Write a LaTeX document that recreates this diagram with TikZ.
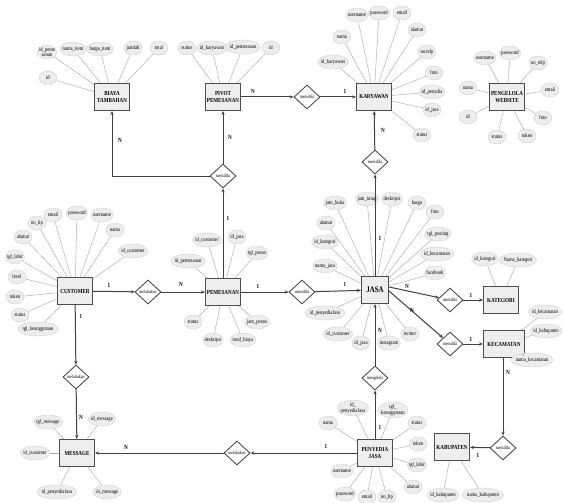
\documentclass[tikz,border=0pt]{standalone}
\usepackage{fontspec}
\setmainfont{Liberation Serif}[FakeStretch=0.82]
\usetikzlibrary{shapes.geometric,arrows.meta}
\begin{document}
\begin{tikzpicture}[x=1pt,y=-1pt,
 ent/.style={draw=black!70, fill=gray!13, line width=1pt, minimum width=35pt, minimum height=27pt, align=center, inner sep=1pt, font=\bfseries\fontsize{6.2}{7.2}\selectfont},
 attr/.style={ellipse, fill=gray!14, draw=gray!35, line width=0.4pt, minimum width=18pt, minimum height=14pt, inner xsep=-1.2pt, inner ysep=0pt, align=center, font=\fontsize{5.7}{5.8}\selectfont},
 rel/.style={diamond, draw=black!80, fill=white, line width=0.75pt, minimum width=26pt, minimum height=24pt, inner sep=0pt, font=\fontsize{4.8}{5}\selectfont},
 conn/.style={draw=black!75, line width=1pt, -{Stealth[length=4pt,width=3.2pt]}},
 al/.style={draw=gray!65, line width=0.45pt},
 card/.style={font=\bfseries\fontsize{6.3}{6.3}\selectfont, inner sep=0pt}
]
\useasboundingbox[fill=white] (0,0) rectangle (563,503);

% ---------- entities ----------
\node[ent] (b)  at (112,97)  {BIAYA\\TAMBAHAN};
\node[ent] (p)  at (223,97)  {PIVOT\\PEMESANAN};
\node[ent] (k)  at (374,97)  {KARYAWAN};
\node[ent] (w)  at (507,97)  {PENGELOLA\\WEBSITE};
\node[ent] (c)  at (75,291)  {CUSTOMER};
\node[ent] (pm) at (223,292) {PEMESANAN};
\node[ent, minimum width=27pt, font=\bfseries\fontsize{8.5}{9}\selectfont] (j) at (375,290) {JASA};
\node[ent] (kt) at (501,300) {KATEGORI};
\node[ent, minimum width=41pt] (kc) at (504,344) {KECAMATAN};
\node[ent] (kb) at (452,447) {KABUPATEN};
\node[ent] (ms) at (77,453)  {MESSAGE};
\node[ent] (pj) at (375,453) {PENYEDIA\\JASA};

% ---------- attributes ----------
\node[attr] (b1) at (47,52) {id\_peme\\sanan};
\node[attr] (b2) at (73,49) {nama\_item};
\node[attr] (b3) at (100,49) {harga\_item};
\node[attr] (b4) at (133,48) {jumlah};
\node[attr] (b5) at (159,48) {total};
\node[attr] (b6) at (48,78) {id};
\foreach \a in {b1,b2,b3,b4,b5,b6} \draw[al] (\a) -- (b);

\node[attr] (p1) at (187,48) {status};
\node[attr] (p2) at (212,48) {id\_karyawan};
\node[attr] (p3) at (243,47) {id\_pemesanan};
\node[attr] (p4) at (271,48) {id};
\foreach \a in {p1,p2,p3,p4} \draw[al] (\a) -- (p);

\node[attr] (k1) at (357,15) {username};
\node[attr] (k2) at (379,13) {password};
\node[attr] (k3) at (402,13) {email};
\node[attr] (k4) at (417,30) {alamat};
\node[attr] (k5) at (342,37) {nama};
\node[attr] (k6) at (427,52) {no.telp};
\node[attr] (k7) at (333,62) {id\_karyawan};
\node[attr] (k8) at (434,73) {foto};
\node[attr] (k9) at (432,92) {id\_penydia};
\node[attr] (k10) at (432,110) {id\_jasa};
\node[attr] (k11) at (422,135) {status};
\foreach \a in {k1,k2,k3,k4,k5,k6,k7,k8,k9,k10,k11} \draw[al] (\a) -- (k);

\node[attr] (w1) at (485,58) {username};
\node[attr] (w2) at (510,53) {password};
\node[attr] (w3) at (538,63) {no\_telp};
\node[attr] (w4) at (468,88) {nama};
\node[attr] (w5) at (550,90) {email};
\node[attr] (w6) at (468,117) {id};
\node[attr] (w7) at (543,118) {foto};
\node[attr] (w8) at (497,137) {status};
\node[attr] (w9) at (527,136) {token};
\foreach \a in {w1,w2,w3,w4,w5,w6,w7,w8,w9} \draw[al] (\a) -- (w);

\node[attr] (c1) at (53,215) {email};
\node[attr] (c2) at (77,213) {password};
\node[attr] (c3) at (102,215) {username};
\node[attr] (c4) at (37,223) {no\_hp};
\node[attr] (c5) at (115,230) {nama};
\node[attr] (c6) at (23,237) {alamat};
\node[attr] (c7) at (133,251) {id\_customer};
\node[attr] (c8) at (15,257) {tgl\_lahir};
\node[attr] (c9) at (17,277) {level};
\node[attr] (c10) at (15,297) {token};
\node[attr] (c11) at (20,315) {status};
\node[attr] (c12) at (38,329) {tgl\_keanggotaan};
\foreach \a in {c1,c2,c3,c4,c5,c6,c7,c8,c9,c10,c11,c12} \draw[al] (\a) -- (c);

\node[attr] (m1) at (207,240) {id\_customer};
\node[attr] (m2) at (237,237) {id\_jasa};
\node[attr] (m3) at (188,261) {id\_pemesanan};
\node[attr] (m4) at (257,253) {tgl\_pesan};
\node[attr] (m5) at (193,322) {status};
\node[attr] (m6) at (257,322) {jam\_pesan};
\node[attr] (m7) at (213,340) {deskripsi};
\node[attr] (m8) at (243,340) {total\_biaya};
\foreach \a in {m1,m2,m3,m4,m5,m6,m7,m8} \draw[al] (\a) -- (pm);

\node[attr] (j1) at (335,203) {jam\_buka};
\node[attr] (j2) at (367,199) {jam\_tutup};
\node[attr] (j3) at (392,199) {deskripsi};
\node[attr] (j4) at (417,203) {harga};
\node[attr] (j5) at (435,212) {foto};
\node[attr] (j6) at (326,223) {alamat};
\node[attr] (j7) at (438,234) {tgl\_posting};
\node[attr] (j8) at (325,242) {id\_kategori};
\node[attr] (j9) at (437,254) {id\_kecamatan};
\node[attr] (j10) at (325,266) {nama\_jasa};
\node[attr] (j11) at (435,273) {facebook};
\node[attr] (j12) at (325,313) {id\_penyediaJasa};
\node[attr] (j13) at (338,334) {id\_customer};
\node[attr] (j14) at (361,343) {id\_jasa};
\node[attr] (j15) at (389,343) {instagram};
\node[attr] (j16) at (410,334) {twitter};
\foreach \a in {j1,j2,j3,j4,j5,j6,j7,j8,j9,j10,j11,j12,j13,j14,j15,j16} \draw[al] (\a) -- (j);

\node[attr] (t1) at (485,259) {id\_kategori};
\node[attr] (t2) at (518,260) {Nama\_kategori};
\foreach \a in {t1,t2} \draw[al] (\a) -- (kt);

\node[attr] (e1) at (545,312) {id\_kecamatan};
\node[attr] (e2) at (546,331) {id\_kabupaten};
\node[attr] (e3) at (532,360) {nama\_kecamatan};
\foreach \a in {e1,e2,e3} \draw[al] (\a) -- (kc);

\node[attr] (a1) at (443,495) {id\_kabupaten};
\node[attr] (a2) at (483,495) {nama\_kabupaten};
\foreach \a in {a1,a2} \draw[al] (\a) -- (kb);

\node[attr] (s1) at (48,422) {tgl\_message};
\node[attr] (s2) at (102,419) {id\_message};
\node[attr] (s3) at (35,453) {id\_customer};
\node[attr] (s4) at (57,492) {id\_penyediaJasa};
\node[attr] (s5) at (107,492) {isi\_message};
\foreach \a in {s1,s2,s3,s4,s5} \draw[al] (\a) -- (ms);

\node[attr] (y1) at (353,408) {id\_\\penyediaJasa};
\node[attr] (y2) at (393,410) {tgl\_\\keanggotaan};
\node[attr] (y3) at (328,423) {nama};
\node[attr] (y4) at (417,423) {status};
\node[attr] (y5) at (418,444) {token};
\node[attr] (y6) at (417,465) {tgl\_lahir};
\node[attr] (y7) at (342,471) {username};
\node[attr] (y8) at (413,487) {alamat};
\node[attr] (y9) at (345,494) {password};
\node[attr] (y10) at (367,497) {email};
\node[attr] (y11) at (387,497) {no\_hp};
\foreach \a in {y1,y2,y3,y4,y5,y6,y7,y8,y9,y10,y11} \draw[al] (\a) -- (pj);

% ---------- relationships ----------
\node[rel] (r1) at (307,97) {memiliki};
\node[rel] (r2) at (223,176) {memiliki};
\node[rel] (r3) at (375,162) {memiliki};
\node[rel] (r4) at (148,292) {melakukan};
\node[rel] (r5) at (302,292) {memiliki};
\node[rel] (r6) at (450,300) {memiliki};
\node[rel] (r7) at (450,344) {memiliki};
\node[rel] (r8) at (503,448) {memiliki};
\node[rel] (r9) at (375,378) {mengelola};
\node[rel] (r10) at (76,377) {melakukan};
\node[rel] (r11) at (237,453) {melakukan};

% ---------- connectors ----------
\draw[conn] (p) -- (r1);
\draw[conn] (r1) -- (k);
\draw[conn] (r3) -- (k);
\draw[conn] (j) -- (r3);
\draw[conn] (r2) -- (p);
\draw[conn] (r2.west) -| (b.south);
\draw[conn] (pm) -- (r2);
\draw[conn] (c) -- (r4);
\draw[conn] (r4) -- (pm);
\draw[conn] (pm) -- (r5);
\draw[conn] (r5) -- (j);
\draw[conn] ([yshift=3pt]j.east) -- (r6);
\draw[conn] ([yshift=-1pt]j.east) -- (r7);
\draw[conn] (r6) -- (kt);
\draw[conn] (r7) -- (kc);
\draw[conn] (kc.south -| r8) -- (r8);
\draw[conn] (r8) -- (kb);
\draw[conn] (pj) -- (r9);
\draw[conn] (r9) -- (j);
\draw[conn] (c) -- (r10);
\draw[conn] (r10) -- (ms);
\draw[conn] (pj) -- (r11);
\draw[conn] (r11) -- (ms);

% ---------- cardinalities ----------
\node[card] (l1) at (253,91) {N};
\node[card] (l2) at (345,91) {1};
\node[card] (l3) at (383,130) {N};
\node[card] (l4) at (380,238) {1};
\node[card] (l5) at (230,137) {N};
\node[card] (l6) at (120,140) {N};
\node[card] (l7) at (228,218) {1};
\node[card] (l8) at (109,285) {1};
\node[card] (l9) at (181,284) {N};
\node[card] (l10) at (258,286) {1};
\node[card] (l11) at (345,284) {1};
\node[card] (l12) at (407,286) {N};
\node[card] (l13) at (412,310) {N};
\node[card] (l14) at (471,295) {1};
\node[card] (l15) at (471,339) {1};
\node[card] (l16) at (508,372) {N};
\node[card] (l17) at (478,455) {1};
\node[card] (l18) at (380,427) {1};
\node[card] (l19) at (380,330) {N};
\node[card] (l20) at (81,316) {1};
\node[card] (l21) at (81,417) {N};
\node[card] (l22) at (326,446) {1};
\node[card] (l23) at (126,447) {N};
\end{tikzpicture}
\end{document}
